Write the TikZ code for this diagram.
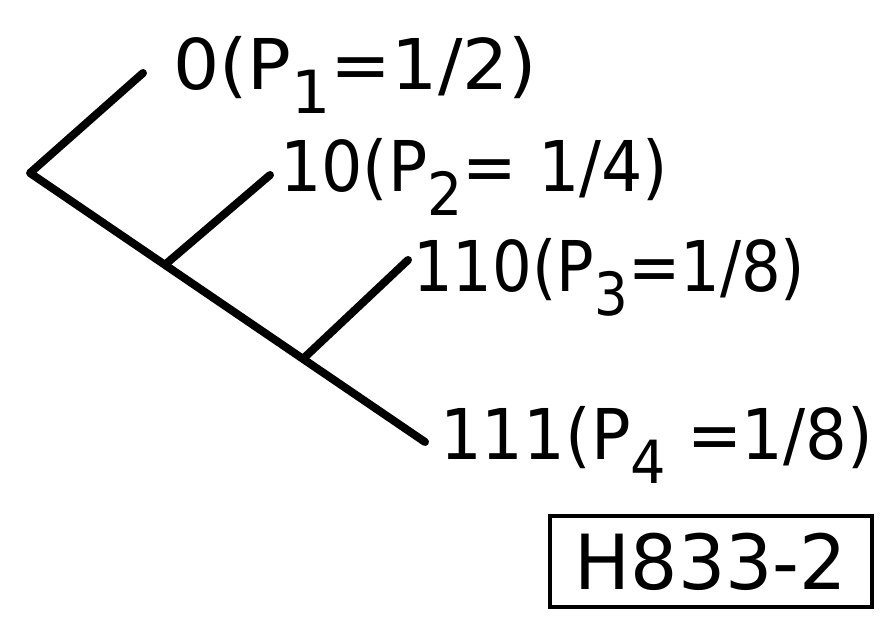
\documentclass[tikz,border=0pt]{standalone}
\usepackage{fontspec}
\setmainfont{DejaVu Sans}
\newcommand\subsc[1]{\raisebox{-0.34em}{\scalebox{0.85}{#1}}}
\newcommand\fitw[2]{\resizebox{#1}{\height}{#2}}
\begin{document}
\begin{tikzpicture}[x=1pt,y=1pt,
  branch/.style={line width=8pt,line cap=round,line join=round},
  lbl/.style={anchor=base west,inner sep=0pt,font=\fontsize{70}{80}\selectfont},
  tag/.style={draw,line width=3.5pt,minimum width=322pt,minimum height=91pt,inner sep=0pt,font=\fontsize{76}{86}\selectfont}]
\useasboundingbox (0,0) rectangle (881,624);
% tree points
\coordinate (root) at (30,451);
\coordinate (e0) at (143,551);
\coordinate (j1) at (167,361);
\coordinate (e1) at (270,449);
\coordinate (j2) at (305,267);
\coordinate (e2) at (408,364);
\coordinate (e3) at (425,182);
% labels
\node[lbl] (t0) at (173,534) {\fitw{364pt}{0(P\subsc{1}=1/2)}};
\node[lbl] (t1) at (280,432) {\fitw{388pt}{10(P\subsc{2}= 1/4)}};
\node[lbl] (t2) at (413,332) {\fitw{392pt}{110(P\subsc{3}=1/8)}};
\node[lbl] (t3) at (440,164) {\fitw{433pt}{111(P\subsc{4} =1/8)}};
\node[tag] (h) at (711,62.5) {\fitw{272pt}{H833-2}};
% branches
\draw[branch] (e0) -- (root) -- (e3);
\draw[branch] (j1) -- (e1);
\draw[branch] (j2) -- (e2);
\end{tikzpicture}
\end{document}
